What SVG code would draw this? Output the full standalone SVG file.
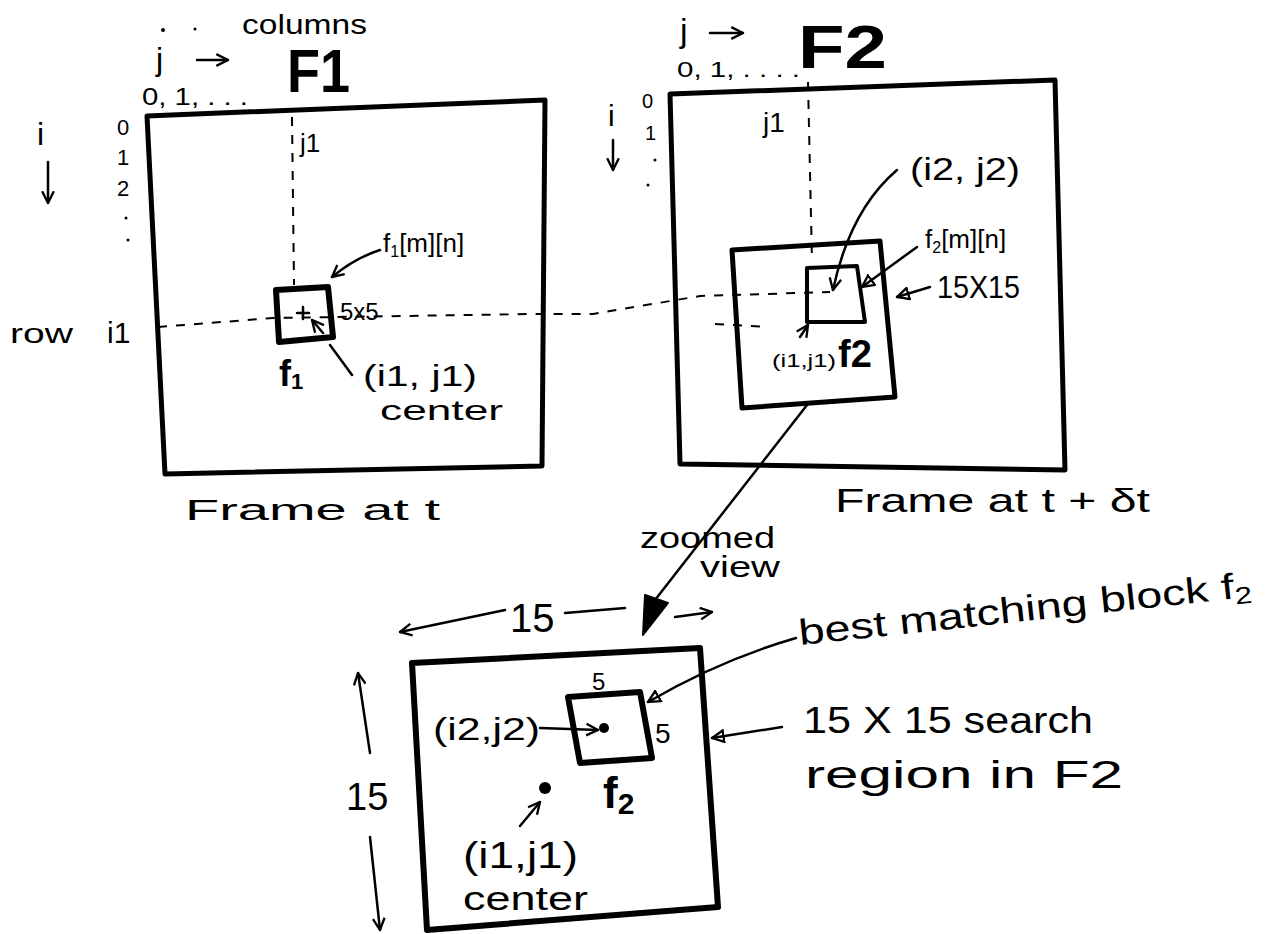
<svg xmlns="http://www.w3.org/2000/svg" width="1278" height="934" viewBox="0 0 1278 934">
<style>
.frame{fill:none;stroke:#000;stroke-width:5;stroke-linejoin:round;stroke-linecap:round}
.box{fill:none;stroke:#000;stroke-width:6;stroke-linejoin:round}
.ln{fill:none;stroke:#000;stroke-width:2.5;stroke-linecap:round}
.dash{fill:none;stroke:#000;stroke-width:2;stroke-dasharray:9 9}
.t{font-family:"Liberation Sans",Arial,sans-serif;fill:#000}
.b{font-weight:bold}
</style>
<defs>
<marker id="open" viewBox="0 0 12 12" refX="11" refY="6" markerWidth="14" markerHeight="14" markerUnits="userSpaceOnUse" orient="auto">
<path d="M1,1 L11,6 L1,11" fill="none" stroke="#000" stroke-width="2"/>
</marker>
<marker id="tri" viewBox="0 0 12 12" refX="11" refY="6" markerWidth="14" markerHeight="14" markerUnits="userSpaceOnUse" orient="auto">
<path d="M1,1 L11,6 L1,11 Z" fill="none" stroke="#000" stroke-width="2"/>
</marker>
</defs>
<rect width="1278" height="934" fill="#fff"/>

<g id="frame1">
<polygon class="frame" points="147,116 545,100 542,466 165,474"/>
<text class="t" x="242" y="34" font-size="28" textLength="125" lengthAdjust="spacingAndGlyphs">columns</text>
<text class="t b" x="287" y="92" font-size="62" textLength="63" lengthAdjust="spacingAndGlyphs">F1</text>
<circle cx="163" cy="30" r="2"/><circle cx="195" cy="29" r="1.5"/>
<text class="t" x="156" y="70" font-size="32">j</text>
<text class="t" x="142" y="105" font-size="24" textLength="106" lengthAdjust="spacingAndGlyphs">0, 1, . . .</text>
<text class="t" x="37" y="145" font-size="32">i</text>
<text class="t" x="117" y="135" font-size="22">0</text>
<text class="t" x="117" y="165" font-size="22">1</text>
<text class="t" x="117" y="196" font-size="22">2</text>
<circle cx="126" cy="218" r="1.5"/><circle cx="128" cy="240" r="1.5"/>
<text class="t" x="300" y="152" font-size="26">j1</text>
<text class="t" x="10" y="343" font-size="28" textLength="63" lengthAdjust="spacingAndGlyphs">row</text>
<text class="t" x="107" y="343" font-size="30">i1</text>
<text class="t" x="185" y="520" font-size="30" textLength="255" lengthAdjust="spacingAndGlyphs">Frame at t</text>
</g>

<g id="block-f1">
<polygon class="box" points="276,290 328,287 333,337 279,342"/>
<path class="ln" d="M297,313 L309,313 M303,307 L303,319"/>
<text class="t" x="383" y="252" font-size="26">f<tspan font-size="16" dy="5">1</tspan><tspan dy="-5">[m][n]</tspan></text>
<text class="t" x="340" y="320" font-size="24">5x5</text>
<text class="t b" x="279" y="386" font-size="36">f<tspan font-size="22" dy="3">1</tspan></text>
<text class="t" x="363" y="386" font-size="30" textLength="114" lengthAdjust="spacingAndGlyphs">(i1, j1)</text>
<text class="t" x="380" y="420" font-size="28" textLength="123" lengthAdjust="spacingAndGlyphs">center</text>
</g>

<g id="frame2">
<polygon class="frame" points="670,94 1055,80 1065,470 680,464"/>
<text class="t" x="680" y="42" font-size="34">j</text>
<text class="t b" x="798" y="68" font-size="62" textLength="89" lengthAdjust="spacingAndGlyphs">F2</text>
<text class="t" x="677" y="77" font-size="22" textLength="123" lengthAdjust="spacingAndGlyphs">0, 1, . . . .</text>
<text class="t" x="608" y="126" font-size="30">i</text>
<text class="t" x="642" y="108" font-size="20">0</text>
<text class="t" x="645" y="140" font-size="20">1</text>
<circle cx="655" cy="160" r="1.5"/><circle cx="648" cy="185" r="1.5"/>
<text class="t" x="763" y="132" font-size="28">j1</text>
<text class="t" x="835" y="512" font-size="34" textLength="315" lengthAdjust="spacingAndGlyphs">Frame at t + δt</text>
</g>

<g id="search-f2">
<polygon class="frame" points="732,250 880,241 895,397 742,408"/>
<polygon class="frame" style="stroke-width:4" points="807,268 857,266 865,322 807,322"/>
<text class="t" x="910" y="180" font-size="32" textLength="110" lengthAdjust="spacingAndGlyphs">(i2, j2)</text>
<text class="t" x="925" y="248" font-size="26">f<tspan font-size="16" dy="5">2</tspan><tspan dy="-5">[m][n]</tspan></text>
<text class="t" x="937" y="298" font-size="32" textLength="83" lengthAdjust="spacingAndGlyphs">15X15</text>
<text class="t" x="772" y="367" font-size="18" textLength="64" lengthAdjust="spacingAndGlyphs">(i1,j1)</text>
<text class="t b" x="838" y="367" font-size="38">f2</text>
</g>

<g id="zoomed-region">
<polygon class="frame" style="stroke-width:6" points="412,663 700,648 718,907 427,930"/>
<polygon class="box" points="568,697 640,692 652,758 580,763"/>
<text class="t" x="510" y="632" font-size="40">15</text>
<text class="t" x="346" y="810" font-size="38">15</text>
<text class="t" x="592" y="690" font-size="24">5</text>
<text class="t" x="655" y="743" font-size="28">5</text>
<text class="t" x="433" y="740" font-size="32" textLength="107" lengthAdjust="spacingAndGlyphs">(i2,j2)</text>
<circle cx="604" cy="728" r="5"/>
<text class="t b" x="603" y="808" font-size="44">f<tspan font-size="30" dy="6">2</tspan></text>
<circle cx="545" cy="788" r="6"/>
<text class="t" x="463" y="868" font-size="36" textLength="115" lengthAdjust="spacingAndGlyphs">(i1,j1)</text>
<text class="t" x="463" y="910" font-size="34" textLength="125" lengthAdjust="spacingAndGlyphs">center</text>
<text class="t" x="800" y="645" font-size="36" textLength="455" lengthAdjust="spacingAndGlyphs" transform="rotate(-6.1 800 645)">best matching block f<tspan font-size="24" dy="6">2</tspan></text>
<text class="t" x="803" y="733" font-size="36" textLength="290" lengthAdjust="spacingAndGlyphs">15 X 15 search</text>
<text class="t" x="805" y="788" font-size="38" textLength="318" lengthAdjust="spacingAndGlyphs">region in F2</text>
</g>

<g id="connectors">
<path class="dash" d="M292,117 L294,285"/>
<path class="dash" d="M158,327 L273,318 L533,314 L593,314 L700,296 L830,292"/>
<path class="dash" d="M808,82 L812,262"/>
<path class="dash" d="M715,324 L767,327"/>
<path class="ln" d="M197,60 L228,60" marker-end="url(#open)"/>
<path class="ln" d="M48,162 L48,203" marker-end="url(#open)"/>
<path class="ln" d="M710,33 L743,33" marker-end="url(#open)"/>
<path class="ln" d="M613,140 L613,170" marker-end="url(#open)"/>
<path class="ln" d="M380,250 Q355,258 332,277" marker-end="url(#open)"/>
<path class="ln" d="M352,375 L330,345"/>
<path class="ln" d="M323,333 L312,320" marker-end="url(#open)"/>
<path class="ln" d="M897,170 Q850,210 833,290" marker-end="url(#open)"/>
<path class="ln" d="M917,247 L862,287" marker-end="url(#tri)"/>
<path class="ln" d="M930,287 L897,297" marker-end="url(#tri)"/>
<path class="ln" d="M800,337 L808,325" marker-end="url(#open)"/>
<path class="ln" d="M807,405 L655,600"/>
<path d="M645,595 L668,603 L643,635 Z" fill="#000" stroke="#000" stroke-width="2" stroke-linejoin="round"/>
<text class="t" x="640" y="548" font-size="30" textLength="135" lengthAdjust="spacingAndGlyphs">zoomed</text>
<text class="t" x="700" y="577" font-size="30" textLength="80" lengthAdjust="spacingAndGlyphs">view</text>
<path class="ln" d="M505,610 L400,632" marker-end="url(#open)"/>
<path class="ln" d="M565,613 L625,608"/>
<path class="ln" d="M675,617 L712,612" marker-end="url(#open)"/>
<path class="ln" d="M370,753 L358,673" marker-end="url(#open)"/>
<path class="ln" d="M370,837 L380,930" marker-end="url(#open)"/>
<path class="ln" d="M540,728 L598,730" marker-end="url(#open)"/>
<path class="ln" d="M520,826 L540,802" marker-end="url(#open)"/>
<path class="ln" d="M796,638 Q720,660 648,702" marker-end="url(#tri)"/>
<path class="ln" d="M782,727 L712,738" marker-end="url(#tri)"/>
</g>
</svg>
